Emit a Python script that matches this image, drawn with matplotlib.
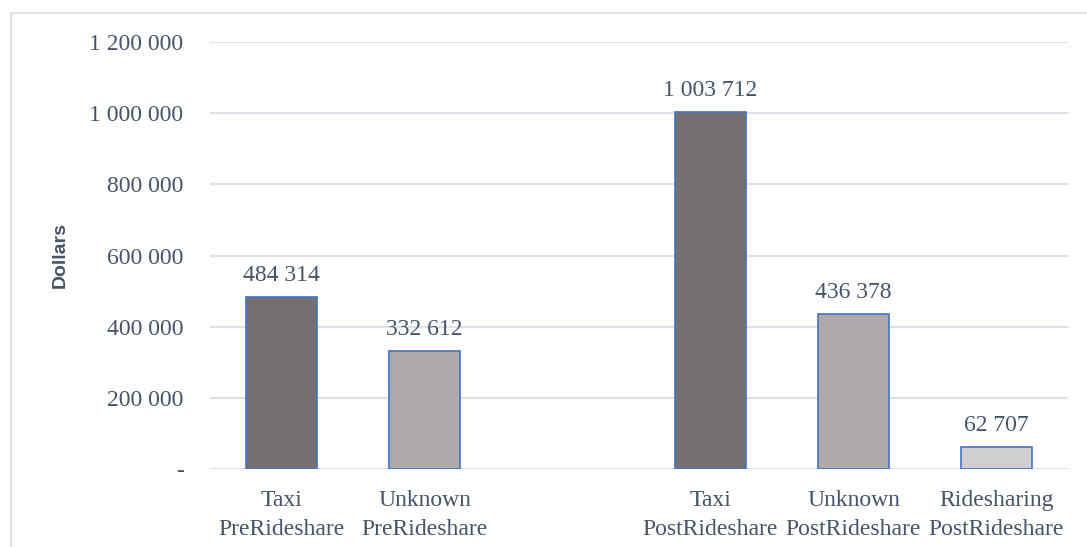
import matplotlib
matplotlib.use("Agg")
import matplotlib.pyplot as plt
from matplotlib.ticker import FuncFormatter, MultipleLocator
from matplotlib.patches import Rectangle

# data
categories = ["Taxi\nPreRideshare", "Unknown\nPreRideshare",
              "Taxi\nPostRideshare", "Unknown\nPostRideshare",
              "Ridesharing\nPostRideshare"]
positions = [0, 1, 3, 4, 5]
values = [484314, 332612, 1003712, 436378, 62707]
colors = ["#767171", "#AEAAAA", "#767171", "#AEAAAA", "#D0CECE"]

text_color = "#44546A"
grid_color = "#DCE1E8"


def spaced(v):
    return f"{int(round(v)):,}".replace(",", " ")


def ytick_fmt(v, pos):
    if v == 0:
        return "-"
    return spaced(v)


fig = plt.figure(figsize=(10.87, 5.47), dpi=100)
ax = fig.add_axes([210 / 1087, 78 / 547, 858 / 1087, 427 / 547])

ax.bar(positions, values, width=0.5, color=colors,
       edgecolor="#4472C4", linewidth=1.2, zorder=3)

for x, v in zip(positions, values):
    ax.annotate(spaced(v), (x, v), xytext=(0, 8), textcoords="offset points",
                ha="center", va="bottom", fontsize=17, color=text_color,
                family="Liberation Serif")

ax.set_xlim(-0.5, 5.5)
ax.set_ylim(0, 1200000)
ax.yaxis.set_major_locator(MultipleLocator(200000))
ax.yaxis.set_major_formatter(FuncFormatter(ytick_fmt))
ax.set_xticks(positions)
ax.set_xticklabels(categories, linespacing=1.5)

ax.grid(axis="y", color=grid_color, linewidth=1.5, zorder=0)
for s in ax.spines.values():
    s.set_visible(False)
ax.tick_params(axis="both", length=0, labelsize=17, labelcolor=text_color)
ax.tick_params(axis="y", pad=19)
ax.tick_params(axis="x", pad=15)
for lab in ax.get_xticklabels() + ax.get_yticklabels():
    lab.set_family("Liberation Serif")

fig.text(60 / 1087, (547 - 255) / 547, "Dollars",
         rotation=90, ha="center", va="center", fontsize=14,
         fontweight="bold", color=text_color, family="Liberation Sans")

# outer chart frame (cut off on right and bottom)
fig.patches.append(Rectangle((10.5 / 1087, -0.1), 1.2, (534.5 / 547) + 0.1,
                             transform=fig.transFigure, fill=False,
                             edgecolor=grid_color, linewidth=1.5))

fig.savefig("out.png", dpi=100)
